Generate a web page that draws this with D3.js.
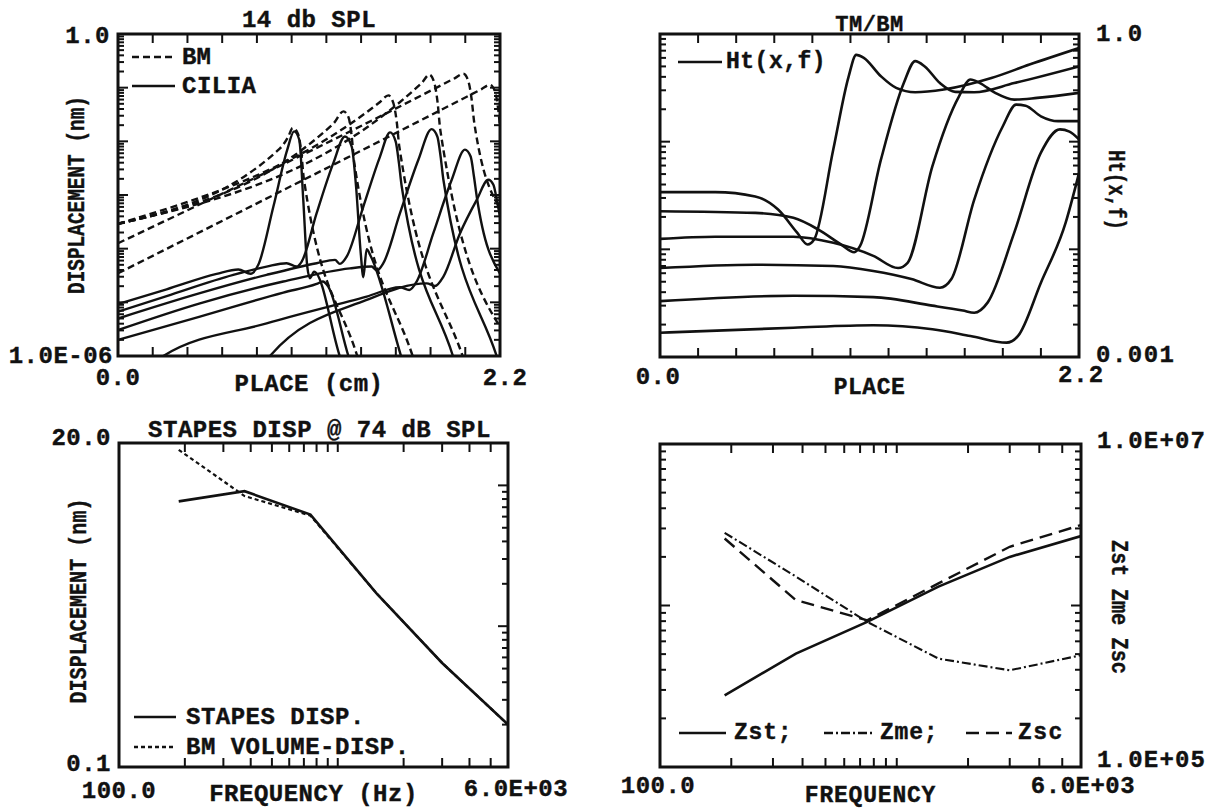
<!DOCTYPE html>
<html><head><meta charset="utf-8">
<script src="https://cdn.jsdelivr.net/npm/d3@7"></script>
<style>
html,body{margin:0;padding:0;background:#fff;}
text{font-family:"Liberation Mono","Courier New",monospace;font-weight:bold;fill:#111;stroke:#111;stroke-width:0.4;}
</style></head><body>
<svg id="c" width="1211" height="809"></svg>
<script>
// ---------------- DATA ----------------
// Top-left: displacement (nm) vs place (cm); 14 dB SPL
const placeTicks = [0,0.2,0.4,0.6,0.8,1.0,1.2,1.4,1.6,1.8,2.0,2.2];
const bm1 = [[0,2.9e-4],[0.933,7.4e-3],[0.981,0.0123],[1.006,0.0177],[1.035,0.0142],[1.054,7.0e-3],[1.071,1.92e-3],[1.378,1e-6],[1.409,4.8e-7]];
const bm2 = [[0,2.9e-4],[1.24,0.0213],[1.298,0.0361],[1.327,0.0283],[1.346,0.0123],[1.361,3.93e-3],[1.697,1e-6],[1.73,4.8e-7]];
const bm3 = [[0,2.9e-4],[1.509,0.054],[1.557,0.0718],[1.586,0.0516],[1.605,0.0235],[1.620,8.04e-3],[1.985,1e-6],[2.02,4.8e-7]];
const bm4 = [[0,2.9e-4],[1.749,0.122],[1.793,0.175],[1.822,0.122],[1.841,0.0516],[1.856,0.0164],[2.2,3.48e-6]];
const bm5 = [[0,1.26e-4],[1.941,0.151],[1.989,0.182],[2.018,0.131],[2.037,0.0596],[2.052,0.0219],[2.2,5.77e-4]];
const bm6 = [[0,3.48e-5],[2.094,0.094],[2.142,0.113],[2.171,0.0853],[2.190,0.0388],[2.2,0.019]];
const cil0 = [[0,2.0e-6],[0.472,5.42e-6],[0.952,1.52e-5],[1.144,2.20e-5],[1.179,2.44e-5],[1.211,1.96e-5],[1.327,1e-6],[1.36,4.8e-7]];
const cil1 = [[0,9.3e-6],[0.28,1.75e-5],[0.568,3.4e-5],[0.693,4.1e-5],[0.764,3.4e-5],[0.808,5.0e-5],[0.895,6.1e-4],[0.975,7.0e-3],[1.014,0.0153],[1.044,0.0107],[1.067,8.1e-4],[1.090,4.64e-5],[1.106,2.81e-5],[1.129,3.74e-5],[1.277,1e-6],[1.31,4.8e-7]];
const cil2 = [[0,6.7e-6],[0.28,1.31e-5],[0.664,3.25e-5],[0.856,4.64e-5],[0.971,5.36e-5],[1.029,4.64e-5],[1.058,5.75e-5],[1.144,4.58e-4],[1.24,3.93e-3],[1.307,0.0123],[1.346,8.0e-3],[1.371,1.44e-3],[1.398,8.2e-5],[1.413,2.93e-5],[1.432,9.8e-5],[1.455,7.3e-5],[1.630,1e-6],[1.66,4.8e-7]];
const cil3 = [[0,5.0e-6],[0.472,1.48e-5],[0.856,3.25e-5],[1.144,5.36e-5],[1.25,6.18e-5],[1.278,5.2e-5],[1.317,7.1e-5],[1.413,6.1e-4],[1.509,5.2e-3],[1.567,0.0147],[1.599,9.95e-3],[1.618,3.93e-3],[1.634,1.44e-3],[1.929,1e-6],[1.96,4.8e-7]];
const cil4 = [[0,3.05e-6],[0.472,9.6e-6],[0.952,2.44e-5],[1.336,4.3e-5],[1.461,4.64e-5],[1.49,3.9e-5],[1.528,5.36e-5],[1.624,4.58e-4],[1.73,4.53e-3],[1.806,0.0169],[1.839,0.0123],[1.858,5.2e-3],[1.874,1.92e-3],[2.181,1e-6],[2.2,6.5e-7]];
const cil5 = [[0.203,5.5e-7],[0.261,1e-6],[0.856,4.06e-6],[1.432,1.28e-5],[1.624,1.91e-5],[1.678,1.70e-5],[1.72,2.44e-5],[1.816,1.94e-4],[1.922,1.92e-3],[1.998,7.0e-3],[2.031,5.2e-3],[2.050,2.21e-3],[2.066,9.38e-4],[2.2,3.44e-5]];
const cil6 = [[0.818,5.5e-7],[0.875,1e-6],[1.432,1.11e-5],[1.778,2.26e-5],[1.826,2.02e-5],[1.874,3.02e-5],[1.97,1.94e-4],[2.066,8.1e-4],[2.133,1.92e-3],[2.162,1.55e-3],[2.185,7.05e-4],[2.2,4.0e-4]];
const bmCurves = [bm1,bm2,bm3,bm4,bm5,bm6];
const ciliaCurves = [cil0,cil1,cil2,cil3,cil4,cil5,cil6];

// Top-right: Ht(x,f) = TM/BM
const ht1 = [[0,0.034],[0.29,0.034],[0.50,0.031],[0.62,0.0234],[0.72,0.0143],[0.775,0.0111],[0.81,0.0124],[0.91,0.085],[0.99,0.40],[1.03,0.64],[1.07,0.60],[1.16,0.405],[1.24,0.316],[1.34,0.288],[1.49,0.305],[1.74,0.39],[1.94,0.52],[2.2,0.74]];
const ht2 = [[0,0.0226],[0.50,0.0218],[0.70,0.0196],[0.83,0.0153],[0.95,0.0111],[1.02,0.0094],[1.05,0.0107],[1.16,0.068],[1.28,0.35],[1.34,0.56],[1.39,0.50],[1.47,0.35],[1.55,0.29],[1.65,0.288],[1.86,0.35],[2.2,0.50]];
const ht3 = [[0,0.0125],[0.29,0.0131],[0.70,0.0131],[0.91,0.0115],[1.12,0.0087],[1.25,0.0067],[1.30,0.0075],[1.43,0.059],[1.57,0.264],[1.63,0.378],[1.68,0.35],[1.76,0.284],[1.86,0.246],[1.98,0.255],[2.2,0.284]];
const ht4 = [[0,0.0067],[0.50,0.0072],[0.91,0.0070],[1.12,0.0063],[1.32,0.0053],[1.47,0.0044],[1.53,0.0053],[1.65,0.029],[1.80,0.139],[1.87,0.221],[1.92,0.216],[2.0,0.172],[2.09,0.155],[2.2,0.155]];
const ht5 = [[0,0.0033],[0.70,0.0037],[1.12,0.0036],[1.43,0.0030],[1.59,0.0027],[1.65,0.00258],[1.72,0.0032],[1.86,0.0143],[2.0,0.079],[2.10,0.130],[2.15,0.124],[2.2,0.105]];
const ht6 = [[0,0.00168],[0.70,0.00187],[1.12,0.00197],[1.43,0.00181],[1.63,0.00157],[1.82,0.00136],[1.88,0.00157],[2.0,0.0049],[2.13,0.0177],[2.2,0.051]];
const htCurves = [ht1,ht2,ht3,ht4,ht5,ht6];

// Bottom: frequency (Hz)
const freqs = [187.5, 375, 750, 1500, 3000, 6000];
const stapesDisp = [7.7, 9.1, 6.2, 1.72, 0.548, 0.20];
const bmVolumeDisp = [17.9, 8.4, 6.1, 1.72, 0.548, 0.20];
const zst = [2.78e5, 5.04e5, 7.92e5, 1.31e6, 2.0e6, 2.69e6];
const zme = [2.82e6, 1.51e6, 7.92e5, 4.69e5, 3.97e5, 4.92e5];
const zsc = [2.60e6, 1.08e6, 8.1e5, 1.37e6, 2.31e6, 3.15e6];

// ---------------- DRAW ----------------
const svg = d3.select('#c');
const FS = 24;
const LW = 2.4;
const P = {
  tl:{x0:118,x1:500,y0:34,y1:356},
  tr:{x0:660,x1:1079,y0:34,y1:357},
  bl:{x0:119,x1:508,y0:443,y1:767},
  br:{x0:660,x1:1081,y0:444,y1:767}
};

function logTickVals(lo, hi){
  const out=[];
  for(let e=Math.floor(Math.log10(lo)); e<=Math.ceil(Math.log10(hi)); e++){
    for(let k=1;k<10;k++){ const v=+(k*Math.pow(10,e)).toPrecision(6); if(v>=lo*0.999 && v<=hi*1.001) out.push({v, major:k===1}); }
  }
  return out;
}

function ticks(g, scale, vals, side, p, len){
  vals.forEach(t=>{
    const L = t.major ? len[0] : len[1];
    const s = scale(t.v);
    let a;
    if(side==='bottom') a=[s,p.y1,s,p.y1-L];
    if(side==='top') a=[s,p.y0,s,p.y0+L];
    if(side==='left') a=[p.x0,s,p.x0+L,s];
    if(side==='right') a=[p.x1,s,p.x1-L,s];
    g.append('line').attr('x1',a[0]).attr('y1',a[1]).attr('x2',a[2]).attr('y2',a[3])
      .attr('stroke','#111').attr('stroke-width',2);
  });
}

function frame(g,p,id){
  svg.append('clipPath').attr('id',id).append('rect')
    .attr('x',p.x0).attr('y',p.y0).attr('width',p.x1-p.x0).attr('height',p.y1-p.y0);
  return ()=> g.append('rect').attr('x',p.x0).attr('y',p.y0).attr('width',p.x1-p.x0).attr('height',p.y1-p.y0)
    .attr('fill','none').attr('stroke','#111').attr('stroke-width',3);
}

function txt(x,y,s,opt={}){
  const t = svg.append('text').attr('x',x).attr('y',y).text(s)
    .attr('font-size',opt.fs||FS).attr('text-anchor',opt.anchor||'middle')
    .attr('dominant-baseline','central');
  if(opt.ls!==undefined) t.attr('letter-spacing',opt.ls);
  if(opt.rot){ t.attr('transform',`rotate(${opt.rot},${x},${y})`); }
  if(opt.len){ t.attr('textLength',opt.len).attr('lengthAdjust','spacingAndGlyphs'); }
  return t;
}

function legendLine(g,x1,x2,y,dash){
  const l=g.append('line').attr('x1',x1).attr('x2',x2).attr('y1',y).attr('y2',y)
    .attr('stroke','#111').attr('stroke-width',LW);
  if(dash) l.attr('stroke-dasharray',dash);
}

// ---------- Top-left ----------
{
  const p=P.tl, g=svg.append('g');
  const x=d3.scaleLinear().domain([0,2.2]).range([p.x0,p.x1]);
  const y=d3.scaleLog().domain([1e-6,1]).range([p.y1,p.y0]);
  const drawFrame=frame(g,p,'clipTL');
  const line=d3.line().x(d=>x(d[0])).y(d=>y(d[1])).curve(d3.curveMonotoneX);
  const cg=g.append('g').attr('clip-path','url(#clipTL)');
  bmCurves.forEach(c=>cg.append('path').attr('d',line(c)).attr('fill','none').attr('stroke','#111').attr('stroke-width',LW).attr('stroke-dasharray','7,4'));
  ciliaCurves.forEach(c=>cg.append('path').attr('d',line(c)).attr('fill','none').attr('stroke','#111').attr('stroke-width',LW));
  const xt=placeTicks.map(v=>({v,major:true}));
  ticks(g,x,xt,'bottom',p,[9,9]); ticks(g,x,xt,'top',p,[9,9]);
  const yt=logTickVals(1e-6,1);
  ticks(g,y,yt,'left',p,[10,6]); ticks(g,y,yt,'right',p,[10,6]);
  drawFrame();
  legendLine(g,p.x0+14,p.x0+57,57,'7,4'); txt(p.x0+64,57,'BM',{anchor:'start'});
  legendLine(g,p.x0+14,p.x0+57,86,null); txt(p.x0+64,86,'CILIA',{anchor:'start',ls:0.5});
  txt((p.x0+p.x1)/2,20,'14 db SPL',{ls:0.5});
  txt(p.x0-8,p.y0+2,'1.0',{anchor:'end',ls:0.5});
  txt(p.x0-5,p.y1,'1.0E-06',{anchor:'end',ls:0.5});
  txt(p.x0,378,'0.0',{ls:0.5}); txt(p.x1+5,378,'2.2',{ls:0.5});
  txt((p.x0+p.x1)/2,384,'PLACE (cm)',{ls:0.5});
  txt(77,(p.y0+p.y1)/2,'DISPLACEMENT (nm)',{rot:-90,len:198});
}

// ---------- Top-right ----------
{
  const p=P.tr, g=svg.append('g');
  const x=d3.scaleLinear().domain([0,2.2]).range([p.x0,p.x1]);
  const y=d3.scaleLog().domain([1e-3,1]).range([p.y1,p.y0]);
  const drawFrame=frame(g,p,'clipTR');
  const line=d3.line().x(d=>x(d[0])).y(d=>y(d[1])).curve(d3.curveMonotoneX);
  const cg=g.append('g').attr('clip-path','url(#clipTR)');
  htCurves.forEach(c=>cg.append('path').attr('d',line(c)).attr('fill','none').attr('stroke','#111').attr('stroke-width',LW+0.2));
  const xt=placeTicks.map(v=>({v,major:true}));
  ticks(g,x,xt,'bottom',p,[9,9]); ticks(g,x,xt,'top',p,[9,9]);
  const yt=logTickVals(1e-3,1);
  ticks(g,y,yt,'left',p,[10,6]); ticks(g,y,yt,'right',p,[10,6]);
  drawFrame();
  legendLine(g,p.x0+18,p.x0+62,62,null); txt(p.x0+66,62,'Ht(x,f)',{anchor:'start',fs:23,ls:0.5});
  txt((p.x0+p.x1)/2,25,'TM/BM',{fs:22,ls:0.5});
  txt(p.x1+17,p.y0,'1.0',{anchor:'start',ls:1.5});
  txt(p.x1+17,p.y1-2,'0.001',{anchor:'start',ls:1.5});
  txt(p.x0-2,377,'0.0',{ls:0.5}); txt(p.x1+2,375,'2.2',{ls:1});
  txt((p.x0+p.x1)/2,388,'PLACE',{fs:23,ls:0.5});
  txt(p.x1+36,190,'Ht(x,f)',{rot:90,len:80,fs:24});
}

// ---------- Bottom-left ----------
{
  const p=P.bl, g=svg.append('g');
  const x=d3.scaleLog().domain([100,6000]).range([p.x0,p.x1]);
  const y=d3.scaleLog().domain([0.1,20]).range([p.y1,p.y0]);
  const drawFrame=frame(g,p,'clipBL');
  const line=d3.line().x(d=>x(d[0])).y(d=>y(d[1]));
  const cg=g.append('g').attr('clip-path','url(#clipBL)');
  cg.append('path').attr('d',line(freqs.map((f,i)=>[f,bmVolumeDisp[i]]))).attr('fill','none').attr('stroke','#111').attr('stroke-width',LW-0.2).attr('stroke-dasharray','4,3');
  cg.append('path').attr('d',line(freqs.map((f,i)=>[f,stapesDisp[i]]))).attr('fill','none').attr('stroke','#111').attr('stroke-width',LW+0.2);
  const xt=logTickVals(100,6000);
  ticks(g,x,xt,'bottom',p,[9,9]); ticks(g,x,xt,'top',p,[9,9]);
  const yt=logTickVals(0.1,20);
  ticks(g,y,yt,'right',p,[10,6]);
  drawFrame();
  legendLine(g,p.x0+15,p.x0+57,717,null); txt(p.x0+67,717,'STAPES DISP.',{anchor:'start',ls:0.5});
  legendLine(g,p.x0+15,p.x0+57,747,'4,3'); txt(p.x0+67,747,'BM VOLUME-DISP.',{anchor:'start',ls:0.5});
  txt((p.x0+p.x1)/2+6,430,'STAPES DISP @ 74 dB SPL',{ls:0.5});
  txt(p.x0-8,p.y0-5,'20.0',{anchor:'end',ls:0.5});
  txt(p.x0-8,p.y1-3,'0.1',{anchor:'end',ls:0.5});
  txt(p.x0,791,'100.0',{ls:0.5}); txt(p.x1+8,789,'6.0E+03',{ls:0.5});
  txt((p.x0+p.x1)/2,794,'FREQUENCY (Hz)',{ls:0.5});
  txt(79,(p.y0+p.y1)/2-4,'DISPLACEMENT (nm)',{rot:-90,len:205});
}

// ---------- Bottom-right ----------
{
  const p=P.br, g=svg.append('g');
  const x=d3.scaleLog().domain([100,6000]).range([p.x0,p.x1]);
  const y=d3.scaleLog().domain([1e5,1e7]).range([p.y1,p.y0]);
  const drawFrame=frame(g,p,'clipBR');
  const line=d3.line().x(d=>x(d[0])).y(d=>y(d[1]));
  const cg=g.append('g').attr('clip-path','url(#clipBR)');
  cg.append('path').attr('d',line(freqs.map((f,i)=>[f,zme[i]]))).attr('fill','none').attr('stroke','#111').attr('stroke-width',LW-0.3).attr('stroke-dasharray','9,3,2,3');
  cg.append('path').attr('d',line(freqs.map((f,i)=>[f,zsc[i]]))).attr('fill','none').attr('stroke','#111').attr('stroke-width',LW).attr('stroke-dasharray','13,7');
  cg.append('path').attr('d',line(freqs.map((f,i)=>[f,zst[i]]))).attr('fill','none').attr('stroke','#111').attr('stroke-width',LW+0.2);
  const xt=logTickVals(100,6000);
  ticks(g,x,xt,'bottom',p,[9,9]); ticks(g,x,xt,'top',p,[9,9]);
  const yt=logTickVals(1e5,1e7);
  ticks(g,y,yt,'left',p,[10,6]); ticks(g,y,yt,'right',p,[10,6]);
  drawFrame();
  const ly=733;
  legendLine(g,p.x0+19,p.x0+66,ly,null); txt(p.x0+74,ly,'Zst;',{anchor:'start',fs:23,ls:0.8});
  legendLine(g,p.x0+164,p.x0+213,ly,'9,3,2,3'); txt(p.x0+220,ly,'Zme;',{anchor:'start',fs:23,ls:0.8});
  legendLine(g,p.x0+306,p.x0+352,ly,'13,7'); txt(p.x0+358,ly,'Zsc',{anchor:'start',fs:23,ls:1.5});
  txt(p.x1+16,p.y0-3,'1.0E+07',{anchor:'start',ls:1.2});
  txt(p.x1+16,p.y1-7,'1.0E+05',{anchor:'start',ls:1.2});
  txt(p.x0-2,786,'100.0',{ls:0.5}); txt(p.x1+2,786,'6.0E+03',{ls:0.5});
  txt((p.x0+p.x1)/2,796,'FREQUENCY',{fs:23,ls:0.8});
  txt(p.x1+37,607,'Zst Zme Zsc',{rot:90,len:134,fs:24});
}
</script></body></html>
